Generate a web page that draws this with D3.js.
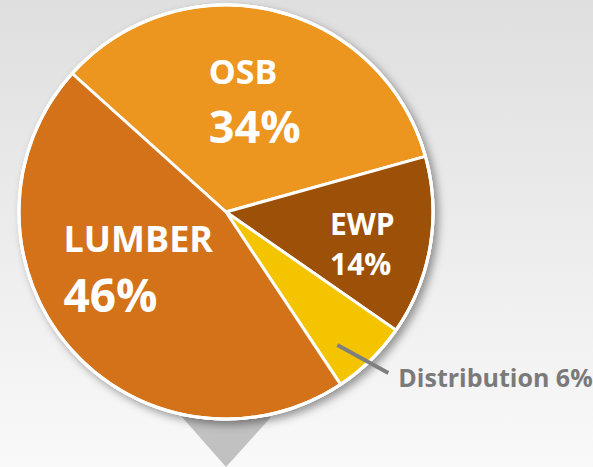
<!DOCTYPE html>
<html>
<head>
<meta charset="utf-8">
<script src="https://cdn.jsdelivr.net/npm/d3@7"></script>
<style>
  html, body { margin: 0; padding: 0; }
  body { width: 593px; height: 467px; overflow: hidden; }
  text { font-family: "Open Sans", "Noto Sans", sans-serif; font-weight: 700; }
</style>
</head>
<body>
<svg id="chart" width="593" height="467"></svg>
<script>
// ---- data ----
const categories = ["OSB", "EWP", "Distribution", "LUMBER"];
const values = [34, 14, 6, 46];
const labels = ["34%", "14%", "6%", "46%"];
const colors = ["#EC951F", "#9D5007", "#F5C400", "#D4721A"];

// ---- layout ----
const W = 593, H = 467;
const cx = 226, cy = 212, R = 207;
const startDeg = -48;

const svg = d3.select("#chart");
const defs = svg.append("defs");

const bg = defs.append("linearGradient").attr("id", "bg")
  .attr("x1", 0).attr("y1", 0).attr("x2", 0).attr("y2", 1);
bg.append("stop").attr("offset", "0%").attr("stop-color", "#dfdfdf");
bg.append("stop").attr("offset", "100%").attr("stop-color", "#f9f9f9");

const sh = defs.append("filter").attr("id", "shadow")
  .attr("x", "-20%").attr("y", "-20%").attr("width", "140%").attr("height", "140%");
sh.append("feDropShadow").attr("dx", 4).attr("dy", 4).attr("stdDeviation", 4)
  .attr("flood-color", "#000").attr("flood-opacity", 0.4);

svg.append("rect").attr("width", W).attr("height", H).attr("fill", "url(#bg)");

// pointer triangle below the pie
const tri = d3.line();
svg.append("path")
  .attr("d", tri([[cx - 44, cy + 205], [cx + 45, cy + 205], [cx, H]]) + "Z")
  .attr("fill", "#c1c1c1");

const pie = d3.pie().sort(null).value(d => d.v)
  .startAngle(startDeg * Math.PI / 180)
  .endAngle(startDeg * Math.PI / 180 + 2 * Math.PI);
const data = categories.map((c, i) => ({ c, v: values[i], l: labels[i], col: colors[i] }));
const arcs = pie(data);
const arc = d3.arc().innerRadius(0).outerRadius(R);

const g = svg.append("g").attr("transform", `translate(${cx},${cy})`);

// outer white ring with shadow
g.append("circle").attr("r", R + 1.5).attr("fill", "#fff").attr("filter", "url(#shadow)");

g.selectAll("path.slice").data(arcs).enter().append("path")
  .attr("class", "slice")
  .attr("d", arc)
  .attr("fill", d => d.data.col)
  .attr("stroke", "#fff").attr("stroke-width", 3).attr("stroke-linejoin", "round");

g.append("circle").attr("r", R).attr("fill", "none").attr("stroke", "#fff").attr("stroke-width", 3);

// ---- labels ----
const labelStyle = {
  OSB:    { r: 113, dx: -43, dy1: -18, dy2: 41, s1: 34, s2: 45 },
  LUMBER: { r: 105, dx: -83, dy1: -29, dy2: 31, s1: 36, s2: 46 },
  EWP:    { r: 143, dx: -37, dy1: -1,  dy2: 39, s1: 30, s2: 30 }
};
arcs.forEach(d => {
  const st = labelStyle[d.data.c];
  if (!st) return;
  const [x, y] = d3.arc().innerRadius(st.r).outerRadius(st.r).centroid(d);
  g.append("text").attr("x", x + st.dx).attr("y", y + st.dy1)
    .attr("fill", "#fff").attr("font-size", st.s1).text(d.data.c);
  g.append("text").attr("x", x + st.dx).attr("y", y + st.dy2)
    .attr("fill", "#fff").attr("font-size", st.s2).text(d.data.l);
});

// Distribution callout
const dist = arcs.find(d => d.data.c === "Distribution");
const [px, py] = d3.arc().innerRadius(172).outerRadius(172).centroid(dist);
const lx = px - 9, ly = py + 10;
g.append("line").attr("x1", lx).attr("y1", ly).attr("x2", lx + 51).attr("y2", ly + 28)
  .attr("stroke", "#7f7f7f").attr("stroke-width", 4);
g.append("text").attr("x", lx + 61).attr("y", ly + 42)
  .attr("fill", "#7a7a7a").attr("font-size", 25)
  .text(dist.data.c + " " + dist.data.l);
</script>
</body>
</html>
